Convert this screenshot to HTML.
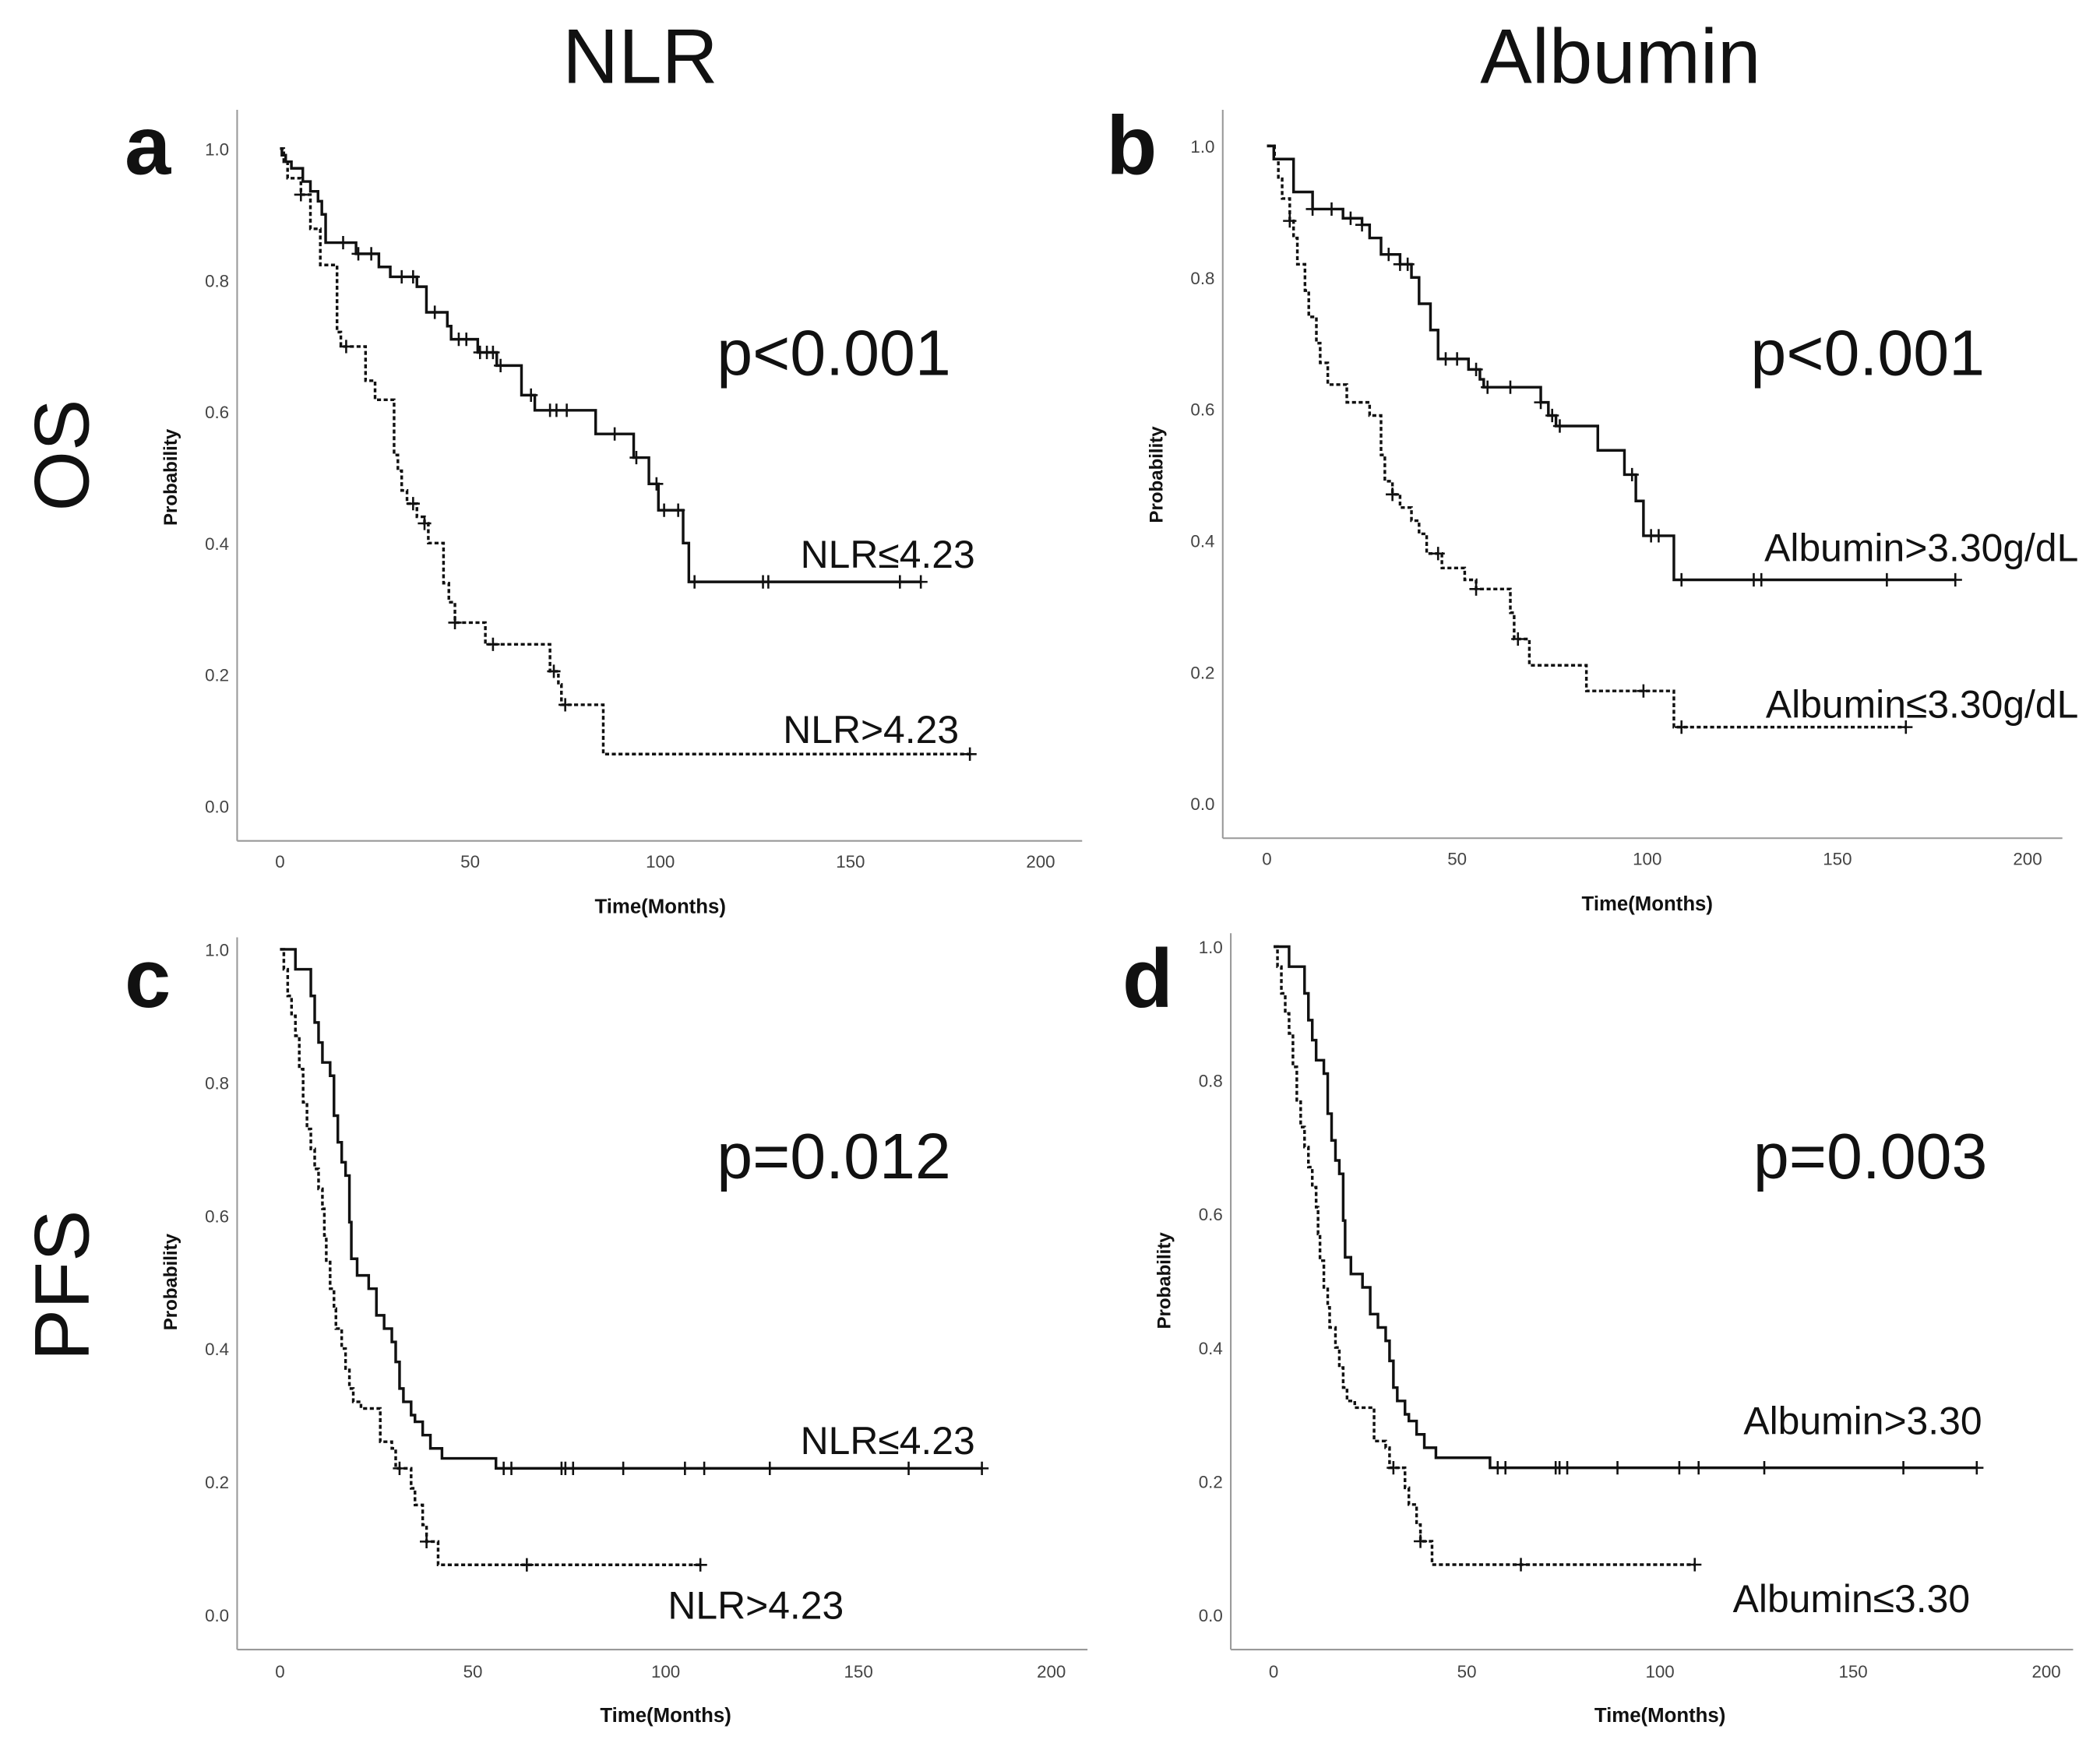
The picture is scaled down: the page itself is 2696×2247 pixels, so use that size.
<!DOCTYPE html>
<html><head><meta charset="utf-8"><style>
html,body{margin:0;padding:0;background:#fff;}
svg{display:block;}
</style></head><body>
<svg id="fig" width="2696" height="2247" viewBox="0 0 1568 1307" xmlns="http://www.w3.org/2000/svg">
<rect width="1568" height="1307" fill="#fff"/>
<g font-family="'Liberation Sans','Noto Sans CJK JP',sans-serif" fill="#111">
<text x="478" y="62" font-size="58" text-anchor="middle">NLR</text>
<text x="1210" y="62" font-size="58" text-anchor="middle">Albumin</text>
<text transform="translate(66,340) rotate(-90)" font-size="58" text-anchor="middle">OS</text>
<text transform="translate(66,960) rotate(-90)" font-size="58" text-anchor="middle">PFS</text>
<text x="93" y="130" font-size="62" font-weight="bold">a</text>
<text x="826" y="130" font-size="62" font-weight="bold">b</text>
<text x="93" y="752" font-size="62" font-weight="bold">c</text>
<text x="838" y="752" font-size="62" font-weight="bold">d</text>
</g>
<g id="panels"></g>
</svg>
<script>
// ---- Panel a (OS, NLR) ----
const aHiTimes=[0.5,1.5,3,6,8,10,11,12,20,26,29,36,38.5,44,45,52,57,63.5,67,83,93,97,99.5,106,107.5];
const aHiSurv=[0.99,0.98,0.97,0.95,0.935,0.92,0.90,0.857,0.84,0.82,0.805,0.79,0.751,0.73,0.71,0.69,0.67,0.625,0.602,0.566,0.53,0.49,0.45,0.40,0.341];
const aHiCens=[16.6,20.6,24,32,35,40.7,47,49,52.6,54.4,56,58,66,71,72.7,75.4,88,93.7,99,101,104.7,109,127,128.4,163,168.5];
const aHiEnd=168.6;
const aLoTimes=[1,2,5.5,8,10.6,15,16,22.5,25,30,31,32,33.4,36,38,39,43,44.4,46,54,71,73.2,74,85];
const aLoSurv=[0.98,0.955,0.93,0.878,0.823,0.721,0.699,0.647,0.618,0.534,0.51,0.48,0.46,0.44,0.43,0.40,0.339,0.31,0.279,0.246,0.205,0.185,0.154,0.079];
const aLoCens=[5.5,17.4,35,38,46,56,72,75,181.4];
const aLoEnd=181.7;
// ---- Panel b (OS, Albumin) ----
const bHiTimes=[1.8,7,12,20,25,27,30,35,38,40,43,45,53,56,57,72,74,76,87,94,97,99,107];
const bHiSurv=[0.98,0.93,0.904,0.89,0.88,0.86,0.835,0.82,0.80,0.76,0.72,0.676,0.66,0.645,0.633,0.61,0.59,0.574,0.537,0.50,0.46,0.407,0.34];
const bHiCens=[12,17,22,25,32,35,37,47,50,55,58,64,72,75,77,96,101,103,109,128,130,163,181];
const bHiEnd=181;
const bLoTimes=[2,3,4,6,7,8,10,11,13,14,16,21,27,30,31,33,35,38,40,42,46,52,55,64,65,69,84,107];
const bLoSurv=[0.98,0.95,0.92,0.886,0.86,0.82,0.78,0.74,0.70,0.67,0.637,0.61,0.59,0.53,0.49,0.47,0.45,0.43,0.41,0.38,0.358,0.34,0.326,0.29,0.25,0.21,0.171,0.116];
const bLoCens=[6,33,45,55,66,99,109,168];
const bLoEnd=168;
// ---- Panel c (PFS, NLR) ----
const cHiTimes=[4,8,9,10,11,13,14,15,16,17,18,18.5,20,23,25,27,29,30,31,32,34,35,37,39,42,56];
const cHiSurv=[0.97,0.93,0.89,0.86,0.83,0.81,0.75,0.71,0.68,0.66,0.59,0.535,0.51,0.49,0.45,0.43,0.41,0.38,0.34,0.32,0.30,0.29,0.27,0.25,0.235,0.22];
const cHiCens=[58,60,73,74,76,89,105,110,127,163,182];
const cHiEnd=182;
const cLoTimes=[1,2,3,4,5,6,7,8,9,10,11,11.5,12,13,14,14.5,16,17,18,19,21,26,29,30,34,35,37,38,41];
const cLoSurv=[0.97,0.93,0.90,0.87,0.82,0.77,0.73,0.70,0.67,0.64,0.61,0.57,0.53,0.49,0.46,0.43,0.40,0.37,0.34,0.32,0.31,0.26,0.25,0.22,0.19,0.165,0.135,0.11,0.075];
const cLoCens=[31,38,64,109];
const cLoEnd=109;
// ---- Panel d (PFS, Albumin) ----
const dHiTimes=[4,8,9,10,11,13,14,15,16,17,18,18.5,20,23,25,27,29,30,31,32,34,35,37,39,42,56];
const dHiSurv=[0.97,0.93,0.89,0.86,0.83,0.81,0.75,0.71,0.68,0.66,0.59,0.535,0.51,0.49,0.45,0.43,0.41,0.38,0.34,0.32,0.30,0.29,0.27,0.25,0.235,0.22];
const dHiCens=[58,60,73,74,76,89,105,110,127,163,182];
const dHiEnd=182;
const dLoTimes=[1,2,3,4,5,6,7,8,9,10,11,11.5,12,13,14,14.5,16,17,18,19,21,26,29,30,34,35,37,38,41];
const dLoSurv=[0.97,0.93,0.90,0.87,0.82,0.77,0.73,0.70,0.67,0.64,0.61,0.57,0.53,0.49,0.46,0.43,0.40,0.37,0.34,0.32,0.31,0.26,0.25,0.22,0.19,0.165,0.135,0.11,0.075];
const dLoCens=[31,38,64,109];
const dLoEnd=109;

const xTickVals=[0,50,100,150,200];
const yTickVals=[0,0.2,0.4,0.6,0.8,1.0];
const yTickLabels=["0.0","0.2","0.4","0.6","0.8","1.0"];

const NS="http://www.w3.org/2000/svg";
const root=document.getElementById('panels');
function mk(tag,attrs,parent){const e=document.createElementNS(NS,tag);for(const k in attrs)e.setAttribute(k,attrs[k]);(parent||root).appendChild(e);return e;}

const panels=[
 {id:'a',axX:177,axTop:82,axY:628,axRight:808,x0:209,x200:777,y1:111,y0:602,tickY:648,timeY:682,probX:132,
  p:'p<0.001',pX:710,pY:280,
  hi:[aHiTimes,aHiSurv,aHiCens,aHiEnd],lo:[aLoTimes,aLoSurv,aLoCens,aLoEnd],
  hiLab:['NLR≤4.23',728,424],loLab:['NLR>4.23',716,555]},
 {id:'b',axX:913,axTop:82,axY:626,axRight:1540,x0:946,x200:1514,y1:109,y0:600,tickY:646,timeY:680,probX:868,
  p:'p<0.001',pX:1482,pY:280,
  hi:[bHiTimes,bHiSurv,bHiCens,bHiEnd],lo:[bLoTimes,bLoSurv,bLoCens,bLoEnd],
  hiLab:['Albumin>3.30g/dL',1552,419],loLab:['Albumin≤3.30g/dL',1552,536]},
 {id:'c',axX:177,axTop:700,axY:1232,axRight:812,x0:209,x200:785,y1:709,y0:1206,tickY:1253,timeY:1286,probX:132,
  p:'p=0.012',pX:710,pY:880,
  hi:[cHiTimes,cHiSurv,cHiCens,cHiEnd],lo:[cLoTimes,cLoSurv,cLoCens,cLoEnd],
  hiLab:['NLR≤4.23',728,1086],loLab:['NLR>4.23',630,1209]},
 {id:'d',axX:919,axTop:697,axY:1232,axRight:1548,x0:951,x200:1528,y1:707,y0:1206,tickY:1253,timeY:1286,probX:874,
  p:'p=0.003',pX:1484,pY:880,
  hi:[dHiTimes,dHiSurv,dHiCens,dHiEnd],lo:[dLoTimes,dLoSurv,dLoCens,dLoEnd],
  hiLab:['Albumin>3.30',1480,1071],loLab:['Albumin≤3.30',1471,1204]}
];

function survAt(times,surv,t){let s=1;for(let i=0;i<times.length;i++){if(times[i]<=t)s=surv[i];}return s;}

panels.forEach(P=>{
 const g=mk('g',{});
 
 
 const X=t=>P.x0+(P.x200-P.x0)*t/200;
 const Y=v=>P.y0+(P.y1-P.y0)*v;
 const ya=mk('line',{x1:P.axX,y1:P.axTop,x2:P.axX,y2:P.axY,stroke:'#999','stroke-width':1.2},g);
 
 
 const xa=mk('line',{x1:P.axX,y1:P.axY,x2:P.axRight,y2:P.axY,stroke:'#999','stroke-width':1.2},g);
 
 
 xTickVals.forEach(v=>{
  const t=mk('text',{x:X(v),y:P.tickY,'font-size':13,'text-anchor':'middle',fill:'#444','font-family':"'Liberation Sans',sans-serif"},g);
  t.textContent=String(v);
  
  
 });
 yTickVals.forEach((v,i)=>{
  const t=mk('text',{x:P.axX-6,y:Y(v)+5,'font-size':13,'text-anchor':'end',fill:'#444','font-family':"'Liberation Sans',sans-serif"},g);
  t.textContent=yTickLabels[i];
  
  
 });
 const yl=mk('text',{transform:`translate(${P.probX},${(Y(1)+Y(0))/2}) rotate(-90)`,'font-size':14,'font-weight':'bold','text-anchor':'middle',fill:'#111','font-family':"'Liberation Sans',sans-serif"},g);
 yl.textContent='Probability';
 
 
 const xl=mk('text',{x:(X(0)+X(200))/2,y:P.timeY,'font-size':15,'font-weight':'bold','text-anchor':'middle',fill:'#111','font-family':"'Liberation Sans',sans-serif"},g);
 xl.textContent='Time(Months)';
 
 
 [['hi',P.hi,'none'],['lo',P.lo,'3,2']].forEach(([nm,S,dash])=>{
  const [times,surv,cens,end]=S;
  let d=`M${X(0)},${Y(1)}`;
  times.forEach((t,i)=>{d+=` H${X(t)} V${Y(surv[i])}`;});
  d+=` H${X(end)}`;
  const p=mk('path',{d:d,fill:'none',stroke:'#111','stroke-width':2,'stroke-dasharray':dash},g);
  
  
  cens.forEach(t=>{
   const cx=X(t),cy=Y(survAt(times,surv,t));
   const c=mk('path',{d:`M${cx-5},${cy} H${cx+5} M${cx},${cy-5} V${cy+5}`,stroke:'#111','stroke-width':1.5},g);
   
   
  });
 });
 const pt=mk('text',{x:P.pX,y:P.pY,'font-size':48,'text-anchor':'end',fill:'#111','font-family':"'Liberation Sans','Noto Sans CJK JP',sans-serif"},g);
 pt.textContent=P.p;
 
 
 [['hi',P.hiLab],['lo',P.loLab]].forEach(([nm,L])=>{
  const t=mk('text',{x:L[1],y:L[2],'font-size':29,'text-anchor':'end',fill:'#111','font-family':"'Liberation Sans','Noto Sans CJK JP',sans-serif"},g);
  t.textContent=L[0];
  
  
 });
});
</script>
</body></html>
